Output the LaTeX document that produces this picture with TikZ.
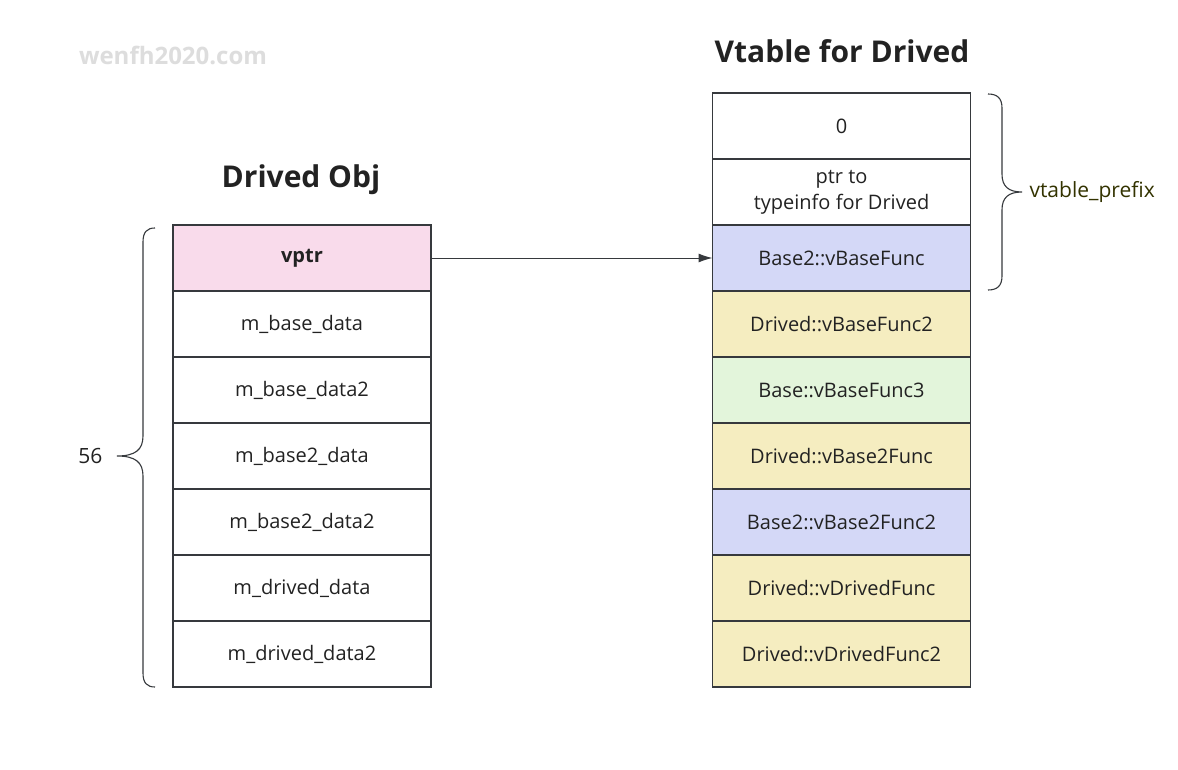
\documentclass[tikz,border=0pt]{standalone}
\usepackage{fontspec}
\setmainfont{Open Sans}
\usetikzlibrary{arrows.meta}
\definecolor{edge}{HTML}{36393D}
\definecolor{pinkfill}{HTML}{F9DBEB}
\definecolor{bluefill}{HTML}{D4D8F7}
\definecolor{yellowfill}{HTML}{F5EDC0}
\definecolor{greenfill}{HTML}{E3F5DB}
\definecolor{txt}{HTML}{222222}
\definecolor{olive}{HTML}{333300}
\definecolor{wm}{HTML}{DDDDDD}
\tikzset{
  cell/.style={draw=edge, line width=1.1pt, minimum width=258pt, minimum height=66pt,
    inner sep=0pt, text=txt, font=\fontsize{20}{26}\selectfont, align=center, outer sep=0pt},
  ttl/.style={font=\fontsize{30}{34}\selectfont\bfseries, text=txt},
  brace/.style={draw=edge, line width=1.1pt},
}
\begin{document}
\begin{tikzpicture}[x=1pt,y=-1pt]
\useasboundingbox (0,0) rectangle (1178,770);
\fill[white] (0,0) rectangle (1178,770);
% watermark and titles
\node[font=\fontsize{24}{28}\selectfont\bfseries, text=wm] (wm) at (173,55) {wenfh2020.com};
\node[ttl] (t1) at (301,180) {Drived Obj};
\node[ttl] (t2) at (842,51) {Vtable for Drived};
% left column
\node[cell, fill=pinkfill, font=\fontsize{20}{26}\selectfont\bfseries] (o0) at (302,258) {vptr};
\node[cell, fill=white] (o1) at (302,324) {m\_base\_data};
\node[cell, fill=white] (o2) at (302,390) {m\_base\_data2};
\node[cell, fill=white] (o3) at (302,456) {m\_base2\_data};
\node[cell, fill=white] (o4) at (302,522) {m\_base2\_data2};
\node[cell, fill=white] (o5) at (302,588) {m\_drived\_data};
\node[cell, fill=white] (o6) at (302,654) {m\_drived\_data2};
% right column
\node[cell, fill=white] (v0) at (841.5,126) {0};
\node[cell, fill=white] (v1) at (841.5,192) {ptr to\\typeinfo for Drived};
\node[cell, fill=bluefill] (v2) at (841.5,258) {Base2::vBaseFunc};
\node[cell, fill=yellowfill] (v3) at (841.5,324) {Drived::vBaseFunc2};
\node[cell, fill=greenfill] (v4) at (841.5,390) {Base::vBaseFunc3};
\node[cell, fill=yellowfill] (v5) at (841.5,456) {Drived::vBase2Func};
\node[cell, fill=bluefill] (v6) at (841.5,522) {Base2::vBase2Func2};
\node[cell, fill=yellowfill] (v7) at (841.5,588) {Drived::vDrivedFunc};
\node[cell, fill=yellowfill] (v8) at (841.5,654) {Drived::vDrivedFunc2};
% arrow
\draw[edge, line width=1pt, -{Latex[length=14pt,width=9pt]}] (o0.east) -- (v2.west);
% left brace
\coordinate (lbt) at (155,228);
\coordinate (lbb) at (155,687);
\coordinate (lbtip) at (117,456);
\draw[brace] (lbt) .. controls (147,228) and (143,232) .. (143,242)
  -- (143,436) .. controls (143,450) and (135,456) .. (lbtip)
  (lbtip) .. controls (135,456) and (143,462) .. (143,476)
  -- (143,673) .. controls (143,683) and (147,687) .. (lbb);
\node[font=\fontsize{21}{24}\selectfont, text=txt, anchor=east] (n56) at (106,456) {56};
% right brace
\coordinate (rbt) at (988,94);
\coordinate (rbb) at (988,290);
\coordinate (rbtip) at (1022,192);
\draw[brace] (rbt) .. controls (997,94) and (1002,98) .. (1002,108)
  -- (1002,174) .. controls (1002,186) and (1008,192) .. (rbtip)
  (rbtip) .. controls (1008,192) and (1002,198) .. (1002,210)
  -- (1002,276) .. controls (1002,286) and (997,290) .. (rbb);
\node[font=\fontsize{21}{24}\selectfont, text=olive, anchor=west] (vp) at (1026,192) {vtable\_prefix};
\end{tikzpicture}
\end{document}
